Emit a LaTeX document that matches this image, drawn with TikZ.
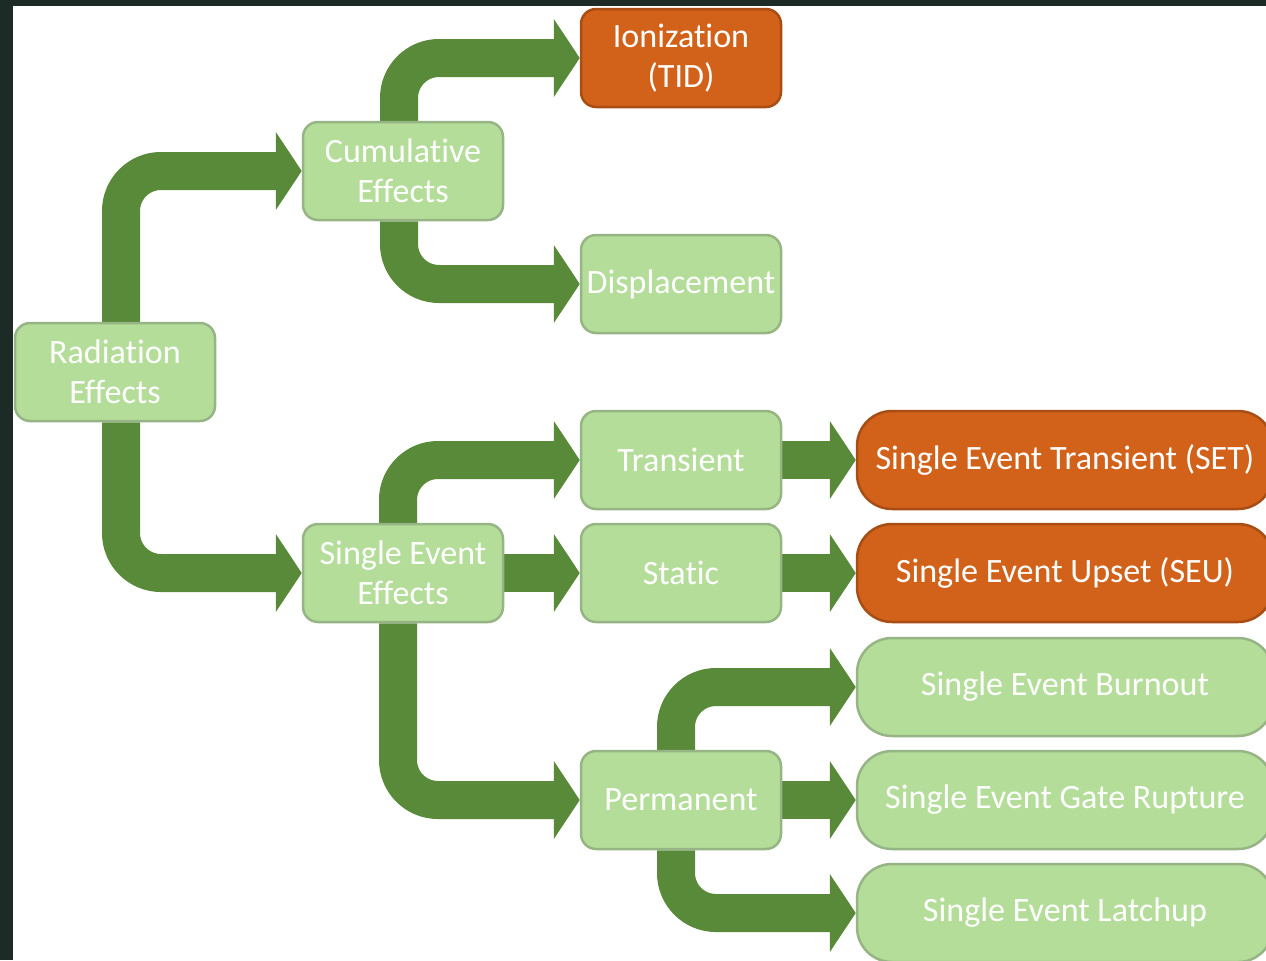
\documentclass[tikz,border=0pt]{standalone}
\usepackage{fontspec}
\setmainfont{Carlito}[Ligatures={NoCommon,NoContextual}, Contextuals={NoAlternate}]
\usetikzlibrary{arrows.meta, backgrounds}
\definecolor{leafgreen}{RGB}{180,221,153}
\definecolor{rimgreen}{RGB}{150,180,132}
\definecolor{pipegreen}{RGB}{88,138,58}
\definecolor{hotorange}{RGB}{210,97,26}
\definecolor{slide}{RGB}{28,43,37}

\begin{document}
\begin{tikzpicture}[x=0.1mm, y=-0.1mm,
  box/.style={draw=rimgreen, line width=0.25mm, fill=leafgreen, rounded corners=1.5mm, align=center,
              text=white, font=\fontsize{9.7}{11.4}\selectfont,
              minimum width=20mm, minimum height=9.8mm, inner sep=1pt},
  wide/.style={box, minimum width=41.6mm, rounded corners=3.5mm},
  hot/.style={fill=hotorange, draw=hotorange!80!black},
  ar/.style={-{Triangle[length=2.6mm, width=7.7mm]}, pipegreen, line width=3.8mm, rounded corners=4mm}]
\useasboundingbox (0,0) rectangle (1266,960);
\node[box] (re) at (115,372) {Radiation\\Effects};
\node[box] (ce) at (403,171) {Cumulative\\Effects};
\node[box, hot] (io) at (681,58) {Ionization\\(TID)};
\node[box] (dp) at (681,284) {Displacement};
\node[box] (see) at (403,573) {Single Event\\Effects};
\node[box] (tr) at (681,460) {Transient};
\node[box] (st) at (681,573) {Static};
\node[box] (pm) at (681,800) {Permanent};
\node[wide, hot] (set) at (1065,460) {Single Event Transient (SET)};
\node[wide, hot] (seu) at (1065,573) {Single Event Upset (SEU)};
\node[wide] (bo) at (1065,687) {Single Event Burnout};
\node[wide] (gr) at (1065,800) {Single Event Gate Rupture};
\node[wide] (la) at (1065,913) {Single Event Latchup};
\begin{scope}[on background layer]
  \fill[slide] (0,0) rectangle (1266,960);
  \fill[white] (13,6) rectangle (1266,960);
  % branches that turn a corner
  \draw[ar] ([xshift=0.6mm]re.north) |- (ce.west);
  \draw[ar] ([xshift=0.6mm]re.south) |- (see.west);
  \draw[ar] ([xshift=-0.4mm]ce.north) |- (io.west);
  \draw[ar] ([xshift=-0.4mm]ce.south) |- (dp.west);
  \draw[ar] ([xshift=-0.5mm]see.north) |- (tr.west);
  \draw[ar] ([xshift=-0.5mm]see.south) |- (pm.west);
  \draw[ar] ([xshift=-0.5mm]pm.north) |- (bo.west);
  \draw[ar] ([xshift=-0.5mm]pm.south) |- (la.west);
  % straight ones
  \foreach \a/\b in {see/st, tr/set, st/seu, pm/gr}
    \draw[ar] (\a.east) -- (\b.west);
\end{scope}
\end{tikzpicture}
\end{document}
